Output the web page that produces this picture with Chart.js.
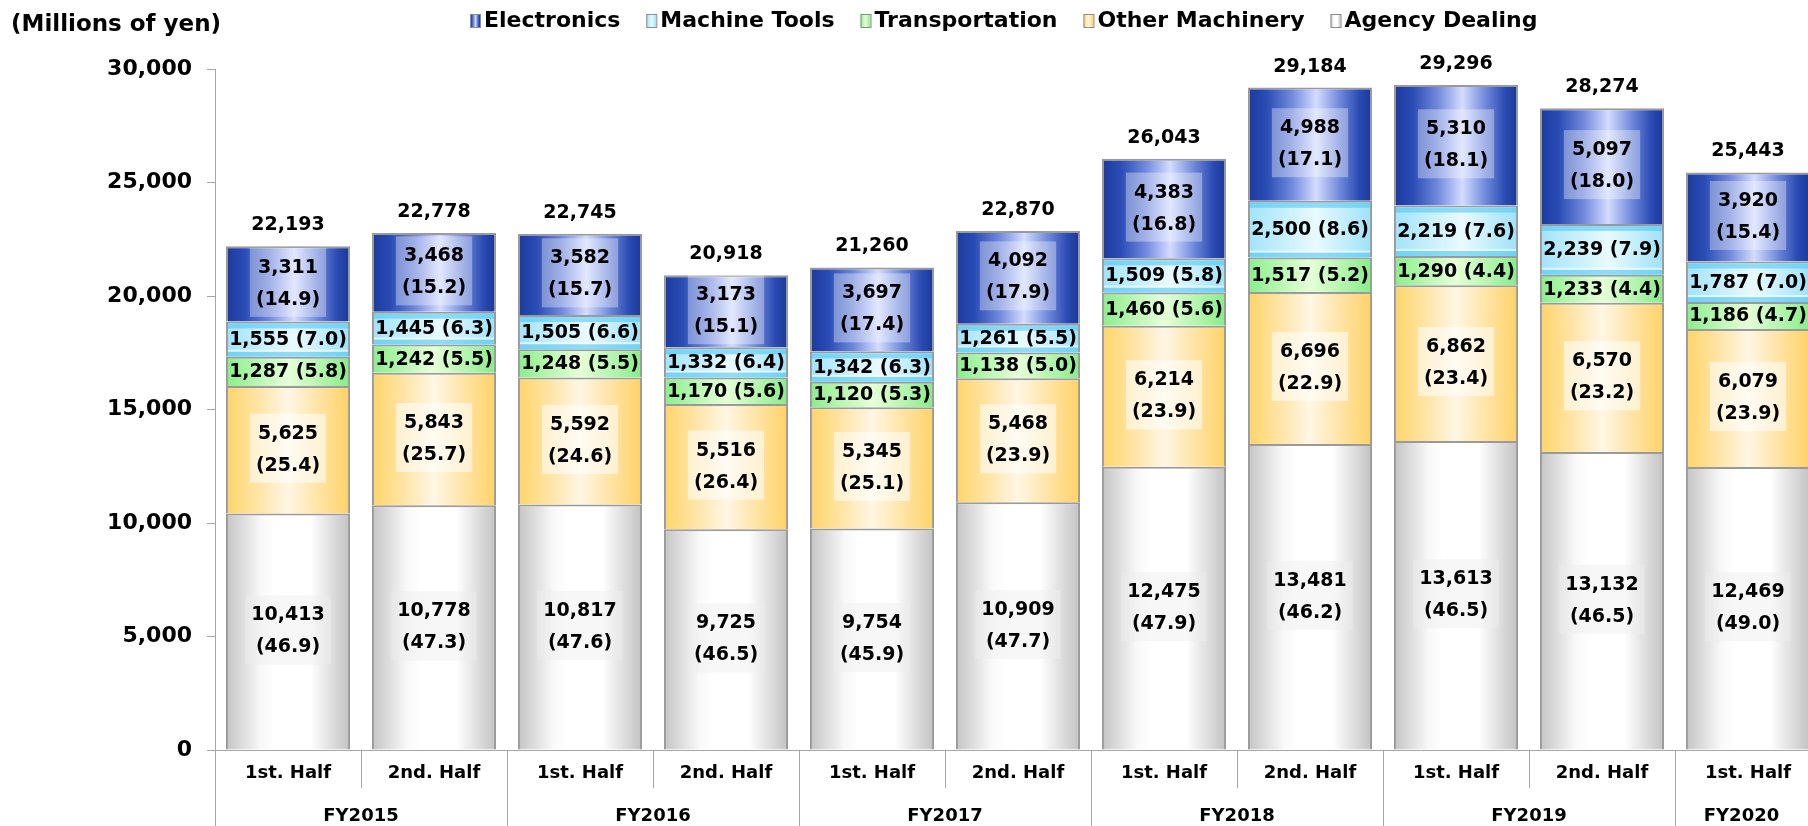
<!DOCTYPE html>
<html><head><meta charset="utf-8">
<script src="https://cdn.jsdelivr.net/npm/chart.js@4.4.0/dist/chart.umd.min.js"></script>
<style>
html,body{margin:0;padding:0;background:#fff;overflow:hidden;}
#wrap{width:1808px;height:826px;overflow:hidden;position:relative;}
#box{width:1822px;height:826px;position:absolute;left:0;top:0;}
</style></head><body>
<div id="wrap"><div id="box"><canvas id="c" width="1822" height="826"></canvas></div></div>
<script>
// ---- data ----
const categories = ['1st. Half','2nd. Half','1st. Half','2nd. Half','1st. Half','2nd. Half','1st. Half','2nd. Half','1st. Half','2nd. Half','1st. Half'];
const fiscalYears = ['FY2015','FY2016','FY2017','FY2018','FY2019','FY2020'];
const fiscalYearOfCategory = [0,0,1,1,2,2,3,3,4,4,5];
const seriesNames = ['Agency Dealing','Other Machinery','Transportation','Machine Tools','Electronics'];
const agencyDealing    = [10413,10778,10817,9725,9754,10909,12475,13481,13613,13132,12469];
const agencyDealingPct = [46.9,47.3,47.6,46.5,45.9,47.7,47.9,46.2,46.5,46.5,49.0];
const otherMachinery    = [5625,5843,5592,5516,5345,5468,6214,6696,6862,6570,6079];
const otherMachineryPct = [25.4,25.7,24.6,26.4,25.1,23.9,23.9,22.9,23.4,23.2,23.9];
const transportation    = [1287,1242,1248,1170,1120,1138,1460,1517,1290,1233,1186];
const transportationPct = [5.8,5.5,5.5,5.6,5.3,5.0,5.6,5.2,4.4,4.4,4.7];
const machineTools    = [1555,1445,1505,1332,1342,1261,1509,2500,2219,2239,1787];
const machineToolsPct = [7.0,6.3,6.6,6.4,6.3,5.5,5.8,8.6,7.6,7.9,7.0];
const electronics    = [3311,3468,3582,3173,3697,4092,4383,4988,5310,5097,3920];
const electronicsPct = [14.9,15.2,15.7,15.1,17.4,17.9,16.8,17.1,18.1,18.0,15.4];
const totals = [22193,22778,22745,20918,21260,22870,26043,29184,29296,28274,25443];
const yMin = 0, yMax = 30000, yStep = 5000;
const yTitle = '(Millions of yen)';

// ---- styles ----
const FONT = '"DejaVu Sans", Verdana, sans-serif';
const BAR_PCT = 0.85;
const gradStops = [
  [[0,'#c4c4c4'],[0.28,'#f8f8f8'],[0.4,'#ffffff'],[0.68,'#ffffff'],[1,'#c2c2c2']],
  [[0,'#ffd468'],[0.3,'#ffe7b0'],[0.5,'#fff6e4'],[0.7,'#ffe7b0'],[1,'#ffd266']],
  [[0,'#8aee8a'],[0.5,'#e6ffd8'],[1,'#88ec88']],
  [[0,'#a2e3fa'],[0.55,'#e8faff'],[1,'#9ee1f8']],
  [[0,'#1b3a9e'],[0.15,'#2a4cb4'],[0.35,'#7088dc'],[0.55,'#d4dcff'],[0.75,'#6a84d8'],[0.9,'#2a4ab2'],[1,'#1a3896']]
];
const labelBoxFill = ['rgba(238,238,238,0.45)','rgba(255,255,255,0.55)',null,null,'rgba(255,255,255,0.35)'];
const values = [agencyDealing, otherMachinery, transportation, machineTools, electronics];
const pcts = [agencyDealingPct, otherMachineryPct, transportationPct, machineToolsPct, electronicsPct];

function hGrad(stops){
  return (c) => {
    const ch = c.chart;
    const xs = ch.scales && ch.scales.x;
    if (c.dataIndex === undefined || !xs || !ch.chartArea) return stops[0][1];
    const cx = xs.getPixelForValue(c.dataIndex);
    const bw = (xs.getPixelForValue(1) - xs.getPixelForValue(0)) * BAR_PCT;
    const g = ch.ctx.createLinearGradient(cx - bw/2, 0, cx + bw/2, 0);
    stops.forEach(([o,col]) => g.addColorStop(o,col));
    return g;
  };
}

const fmt = v => v.toLocaleString('en-US');

const drawPlugin = {
  id: 'custom',
  afterDatasetsDraw(chart){
    const ctx = chart.ctx;
    ctx.save();
    // machine tools bands
    const mt = chart.getDatasetMeta(3);
    mt.data.forEach(el => {
      const p = el.getProps(['x','y','base','width'], true);
      const l = p.x - p.width/2 + 2, w = p.width - 4;
      const top = Math.min(p.y, p.base), bot = Math.max(p.y, p.base);
      ctx.fillStyle = 'rgba(70,196,242,0.55)';
      ctx.fillRect(l, top + 2, w, 5);
      ctx.fillRect(l, bot - 5, w, 5);
      ctx.fillStyle = 'rgba(255,255,255,0.6)';
      ctx.fillRect(l, bot - 7, w, 2);
    });
    // labels
    ctx.font = 'bold 19px ' + FONT;
    ctx.textAlign = 'center';
    ctx.textBaseline = 'middle';
    chart.data.datasets.forEach((ds, di) => {
      const meta = chart.getDatasetMeta(di);
      meta.data.forEach((el, i) => {
        const p = el.getProps(['x','y','base'], true);
        const cy = (p.y + p.base) / 2;
        const v = fmt(values[di][i]);
        const pc = '(' + pcts[di][i].toFixed(1) + ')';
        if (labelBoxFill[di]) {
          const w = Math.max(ctx.measureText(v).width, ctx.measureText(pc).width) + 12;
          ctx.fillStyle = labelBoxFill[di];
          ctx.fillRect(p.x - w/2, cy - 36, w, 69);
          ctx.fillStyle = '#000';
          ctx.fillText(v, p.x, cy - 16);
          ctx.fillText(pc, p.x, cy + 16);
        } else {
          ctx.fillStyle = '#000';
          ctx.fillText(v + ' ' + pc, p.x, cy + 1);
        }
      });
    });
    // totals
    const top = chart.getDatasetMeta(4);
    top.data.forEach((el, i) => {
      const p = el.getProps(['x','y'], true);
      ctx.fillStyle = '#000';
      ctx.fillText(fmt(totals[i]), p.x, p.y - 21);
    });
    ctx.restore();
  },
  afterDraw(chart){
    const ctx = chart.ctx;
    const xs = chart.scales.x;
    const ca = chart.chartArea;
    ctx.save();
    // dividers
    ctx.strokeStyle = '#a6a6a6';
    ctx.lineWidth = 1;
    for (let k = 0; k <= categories.length - 1; k++) {
      let bx;
      if (k === 0) bx = ca.left;
      else bx = (xs.getPixelForValue(k-1) + xs.getPixelForValue(k)) / 2;
      const isGroup = k === 0 || fiscalYearOfCategory[k] !== fiscalYearOfCategory[k-1];
      const px = Math.round(bx) + 0.5;
      ctx.beginPath();
      ctx.moveTo(px, ca.bottom);
      ctx.lineTo(px, isGroup ? chart.height : ca.bottom + 38);
      ctx.stroke();
    }
    // fiscal year labels
    ctx.fillStyle = '#000';
    ctx.font = 'bold 18px ' + FONT;
    ctx.textAlign = 'center';
    ctx.textBaseline = 'middle';
    const visRight = 1808;
    fiscalYears.forEach((fy, g) => {
      const idx = [];
      fiscalYearOfCategory.forEach((f, i) => { if (f === g) idx.push(i); });
      const first = idx[0], last = idx[idx.length-1];
      const half = (xs.getPixelForValue(1) - xs.getPixelForValue(0)) / 2;
      const l = xs.getPixelForValue(first) - half;
      const r = Math.min(xs.getPixelForValue(last) + half, visRight);
      ctx.fillText(fy, (l + r) / 2, 816);
    });
    // y title
    ctx.textAlign = 'left';
    ctx.font = 'bold 23px ' + FONT;
    ctx.fillText(yTitle, 11, 25);
    // legend
    ctx.font = 'bold 22px ' + FONT;
    let lx = 470;
    const ly = 21;
    [4,3,2,1,0].forEach(di => {
      const g = ctx.createLinearGradient(lx, 0, lx + 10, 0);
      gradStops[di].forEach(([o,col]) => g.addColorStop(o,col));
      ctx.fillStyle = g;
      ctx.fillRect(lx, ly - 7, 10, 13);
      ctx.strokeStyle = '#8c8c8c';
      ctx.lineWidth = 1;
      ctx.strokeRect(lx + 0.5, ly - 6.5, 10, 13);
      ctx.fillStyle = '#000';
      ctx.fillText(seriesNames[di], lx + 14, ly);
      lx += 14 + ctx.measureText(seriesNames[di]).width + 26;
    });
    ctx.restore();
  }
};

Chart.defaults.font.family = FONT;
new Chart(document.getElementById('c'), {
  type: 'bar',
  data: {
    labels: categories,
    datasets: values.map((arr, di) => ({
      label: seriesNames[di],
      data: arr,
      backgroundColor: hGrad(gradStops[di]),
      borderColor: '#9a9a9a',
      borderWidth: {top: 2, left: 2, right: 2, bottom: 0},
      borderSkipped: false,
      barPercentage: BAR_PCT,
      categoryPercentage: 1
    }))
  },
  options: {
    responsive: false,
    devicePixelRatio: 1,
    animation: false,
    layout: {padding: {top: 69, right: 1, bottom: 0, left: 0}},
    plugins: {legend: {display: false}, tooltip: {enabled: false}},
    scales: {
      x: {
        stacked: true,
        offset: true,
        grid: {display: false, drawTicks: false},
        border: {display: true, color: '#a6a6a6', width: 1},
        ticks: {font: {size: 18, weight: 'bold'}, color: '#000', padding: 13, maxRotation: 0, autoSkip: false},
        afterFit: s => { s.height = 76; }
      },
      y: {
        stacked: true,
        min: yMin, max: yMax,
        ticks: {stepSize: yStep, callback: v => fmt(v), font: {size: 22, weight: 'bold'}, color: '#000', padding: 15},
        grid: {drawOnChartArea: false, drawTicks: true, tickLength: 8, color: '#a6a6a6'},
        border: {display: true, color: '#a6a6a6', width: 1},
        afterFit: s => { s.width = 215; }
      }
    }
  },
  plugins: [drawPlugin]
});
</script>
</body></html>
